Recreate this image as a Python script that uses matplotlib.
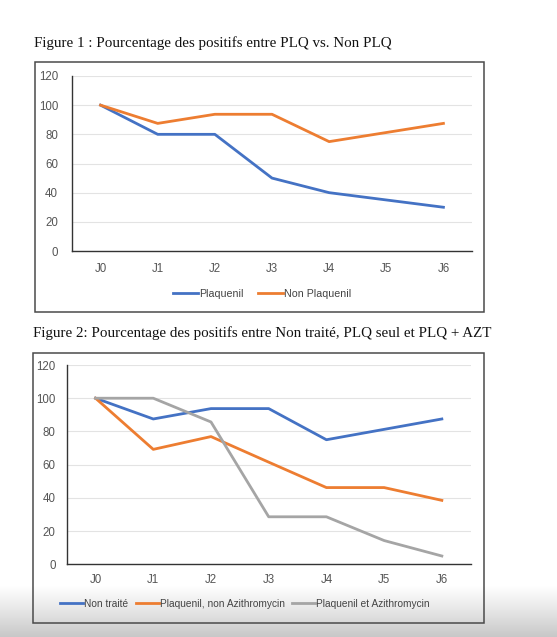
import numpy as np
import matplotlib
matplotlib.use("Agg")
import matplotlib.pyplot as plt
from matplotlib.patches import Rectangle

W, H = 557, 637
DPI = 100

days = ["J0", "J1", "J2", "J3", "J4", "J5", "J6"]
plaquenil = [100, 80, 80, 50, 40, 35, 30]
non_plaquenil = [100, 87.5, 93.75, 93.75, 75, 81.25, 87.5]

non_traite = [100, 87.5, 93.75, 93.75, 75, 81.25, 87.5]
plq_non_azt = [100, 69.2, 76.9, 61.5, 46.2, 46.2, 38.5]
plq_azt = [100, 100, 85.7, 28.6, 28.6, 14.3, 5]

yticks = [0, 20, 40, 60, 80, 100, 120]

BLUE = "#4472C4"
ORANGE = "#ED7D31"
GRAY = "#A5A5A5"

fig = plt.figure(figsize=(W / DPI, H / DPI), dpi=DPI)

# background with slight gray gradient at bottom (screenshot vignette)
bg = fig.add_axes([0, 0, 1, 1], zorder=-10)
grad = np.ones((H, 1))
yy = np.arange(H)
start = 585
grad[start:, 0] = 1 - 0.22 * ((yy[start:] - start) / (H - start)) ** 1.1
bg.imshow(np.dstack([grad, grad, grad]), aspect="auto", extent=[0, 1, 0, 1], vmin=0, vmax=1)
bg.axis("off")


def px_axes(left, right, top, bottom):
    return fig.add_axes([left / W, 1 - bottom / H, (right - left) / W, (bottom - top) / H])


def frame(left, right, top, bottom):
    fig.add_artist(Rectangle((left / W, 1 - bottom / H), (right - left) / W, (bottom - top) / H,
                             transform=fig.transFigure, fill=False, edgecolor="#4a4a4a", lw=1.1))


def style(ax, ypad, xpad):
    ax.set_xlim(-0.5, 6.5)
    ax.set_ylim(0, 120)
    ax.set_yticks(yticks)
    ax.set_xticks(range(len(days)))
    ax.set_xticklabels(days)
    ax.grid(axis="y", color="#e3e3e3", lw=0.8)
    ax.set_axisbelow(True)
    for s in ["top", "right"]:
        ax.spines[s].set_visible(False)
    ax.spines["left"].set_color("#333333")
    ax.spines["bottom"].set_color("#333333")
    ax.spines["left"].set_linewidth(1.0)
    ax.spines["bottom"].set_linewidth(1.0)
    ax.tick_params(length=0, labelsize=8.3, colors="#555555")
    ax.tick_params(axis="y", pad=ypad)
    ax.tick_params(axis="x", pad=xpad)
    ax.patch.set_alpha(0)
    for t in ax.get_xticklabels() + ax.get_yticklabels():
        t.set_family("Liberation Sans")


serif = "Liberation Serif"

# Figure 1
fig.text(34 / W, 1 - 43 / H, "Figure 1 : Pourcentage des positifs entre PLQ vs. Non PLQ",
         family=serif, fontsize=10.8, va="center", ha="left", color="#111111")
frame(34.5, 484, 62, 312.5)
ax1 = px_axes(72, 472, 76, 251)
ax1.plot(range(7), plaquenil, color=BLUE, lw=2.0, label="Plaquenil")
ax1.plot(range(7), non_plaquenil, color=ORANGE, lw=2.0, label="Non Plaquenil")
style(ax1, 10, 9)
leg1 = fig.legend(handles=ax1.get_lines(), loc="center", bbox_to_anchor=(262 / W, 1 - 294 / H),
                  ncol=2, frameon=False, prop={"family": "Liberation Sans", "size": 7.7},
                  handlelength=2.3, handletextpad=0.1, columnspacing=1.4)
for t in leg1.get_texts():
    t.set_color("#444444")

# Figure 2
fig.text(33 / W, 1 - 333 / H, "Figure 2: Pourcentage des positifs entre Non traité, PLQ seul et PLQ + AZT",
         family=serif, fontsize=10.8, va="center", ha="left", color="#111111")
frame(33, 484, 352.5, 622.5)
ax2 = px_axes(66.7, 470.7, 365, 564.3)
ax2.plot(range(7), non_traite, color=BLUE, lw=2.0, label="Non traité")
ax2.plot(range(7), plq_non_azt, color=ORANGE, lw=2.0, label="Plaquenil, non Azithromycin")
ax2.plot(range(7), plq_azt, color=GRAY, lw=2.0, label="Plaquenil et Azithromycin")
style(ax2, 8, 7)
leg2 = fig.legend(handles=ax2.get_lines(), loc="center", bbox_to_anchor=(245 / W, 1 - 604 / H),
                  ncol=3, frameon=False, prop={"family": "Liberation Sans", "size": 7.3},
                  handlelength=2.3, handletextpad=0.1, columnspacing=0.7)
for t in leg2.get_texts():
    t.set_color("#444444")

fig.savefig("out.png", dpi=DPI)
